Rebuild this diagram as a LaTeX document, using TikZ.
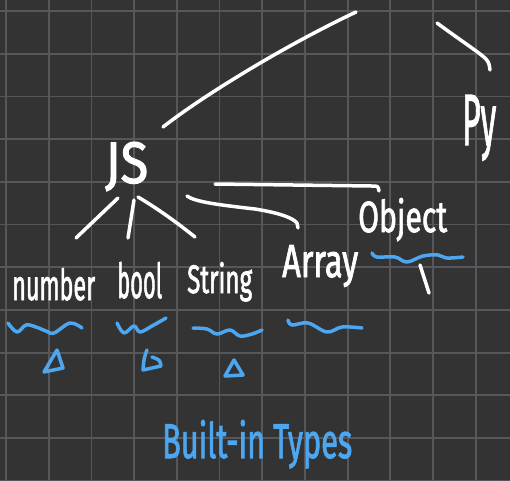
\documentclass[tikz,border=0pt]{standalone}
\usepackage{fontspec}
\setmainfont{Fira Sans}
\newfontfamily\handfont[FakeBold=2]{Fira Sans}
\definecolor{board}{HTML}{333333}
\definecolor{gridline}{HTML}{57575B}
\definecolor{hl}{HTML}{4DA6F0}

\begin{document}
\begin{tikzpicture}[x=1pt,y=-1pt,
  gridstroke/.style={draw=gridline, line width=1.8pt},
  chalk/.style={draw=white, line width=3.5pt, line cap=round, line join=round},
  hlstroke/.style={draw=hl, line width=3.5pt, line cap=round, line join=round},
  lbl/.style={inner sep=0pt, anchor=base west, text=white, font=\handfont\fontsize{40}{40}\selectfont},
  hllbl/.style={lbl, text=hl}
]
% board and grid
\fill[board] (0,0) rectangle (510,480);
\useasboundingbox (0,0) rectangle (510,480);
\foreach \i in {0,...,11} {
  \draw[gridstroke] ({6+42.7*\i},0) -- ({6+42.7*\i},480);
  \draw[gridstroke] (0,{11+42.7*\i}) -- (510,{11+42.7*\i});
}

% labels
\node[lbl] (js)  at (105,183) {\resizebox{43pt}{41pt}{JS}};
\node[lbl] (py)  at (462,145) {\resizebox{34pt}{50pt}{Py}};
\node[lbl] (obj) at (358,232) {\resizebox{89pt}{34pt}{Object}};
\node[lbl] (num) at (12,300)  {\resizebox{83pt}{32pt}{number}};
\node[lbl] (boo) at (117,298) {\resizebox{45pt}{36pt}{bool}};
\node[lbl] (str) at (187,293) {\resizebox{65pt}{31pt}{String}};
\node[lbl] (arr) at (282,277) {\resizebox{76pt}{32pt}{Array}};
\node[hllbl] (bit) at (162,458) {\resizebox{190pt}{38pt}{Built-in Types}};

% stroke ends
\coordinate (topL) at (356,12);
\coordinate (jsUp) at (163,127);
\coordinate (topR) at (437,23);
\coordinate (pyUp) at (490,70);

% white connectors
\draw[chalk] (jsUp) .. controls (200,98) and (280,48) .. (topL);
\draw[chalk] (topR) .. controls (460,40) and (480,53) .. (486,59) .. controls (489,63) .. (pyUp);
\draw[chalk] (118,198) -- (76,238);
\draw[chalk] (134,200) -- (128,238);
\draw[chalk] (138,197) .. controls (160,210) and (180,225) .. (195,237);
\draw[chalk] (187,196) .. controls (195,202) and (220,205) .. (255,209) .. controls (280,213) and (293,218) .. (297,223) -- (298,228);
\draw[chalk] (215,184) -- (372,186) .. controls (378,186) .. (379,191);
\draw[chalk] (420,265) -- (429,293);

% blue underlines
\draw[hlstroke] plot[smooth, tension=0.6] coordinates {(8,323) (17,332) (26,325) (36,327) (46,331) (54,333) (70,323) (82,328)};
\draw[hlstroke] plot[smooth, tension=0.6] coordinates {(117,323) (124,333) (134,326) (140,332) (152,326) (166,318)};
\draw[hlstroke] plot[smooth, tension=0.6] coordinates {(193,328) (207,329) (217,334) (230,330) (240,336) (252,334) (262,330)};
\draw[hlstroke] plot[smooth, tension=0.6] coordinates {(288,320) (292,325) (308,323) (327,332) (342,327) (362,328)};
\draw[hlstroke] plot[smooth, tension=0.6] coordinates {(372,253) (377,257) (395,257) (407,262) (423,256) (438,255) (447,258) (463,257)};

% small triangles
\draw[hlstroke] (57,350) -- (44,372) -- (63,368) -- cycle;
\draw[hlstroke] (147,350) .. controls (144,358) .. (143,370) -- (161,366) .. controls (160,360) .. (152,357);
\draw[hlstroke] (234,360) -- (225,376) -- (243,375) -- cycle;
\end{tikzpicture}
\end{document}
